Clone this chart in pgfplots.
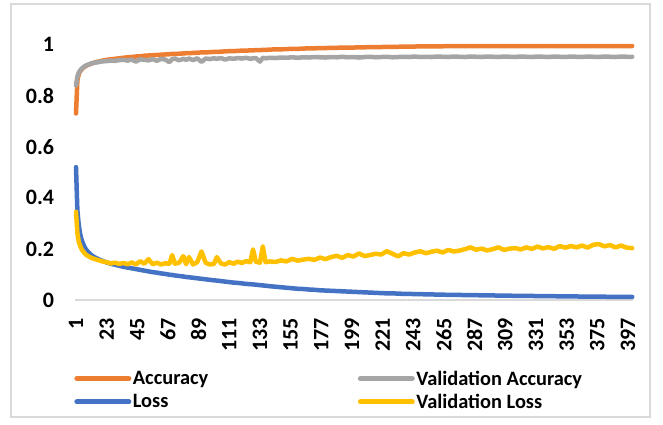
\documentclass[border=0pt]{standalone}
\usepackage{fontspec}
\setmainfont{Carlito}
\usepackage{pgfplots}
\usepackage{pgfplotstable}
\pgfplotsset{compat=1.18}
\definecolor{cacc}{HTML}{ED7D31}
\definecolor{cvacc}{HTML}{A5A5A5}
\definecolor{closs}{HTML}{4472C4}
\definecolor{cvloss}{HTML}{FFC000}
\definecolor{cgrid}{HTML}{D9D9D9}
\newcommand\cf{\fontsize{20.4bp}{24bp}\selectfont\bfseries}
\newcommand\tf{\fontsize{22bp}{26bp}\selectfont\bfseries}
\pgfplotstableread{
ep acc vacc loss vloss
1 0.730 0.840 0.520 0.345
2 0.860 0.875 0.350 0.262
3 0.884 0.890 0.292 0.228
4 0.895 0.899 0.258 0.212
5 0.902 0.905 0.236 0.199
6 0.908 0.910 0.221 0.191
7 0.912 0.914 0.209 0.184
8 0.916 0.917 0.199 0.178
10 0.921 0.922 0.186 0.171
12 0.925 0.926 0.176 0.165
14 0.929 0.928 0.168 0.161
17 0.933 0.931 0.160 0.156
20 0.937 0.934 0.153 0.151
23 0.940 0.935 0.147 0.148
26 0.942 0.937 0.142 0.143
29 0.944 0.936 0.138 0.146
32 0.946 0.939 0.134 0.141
35 0.948 0.940 0.130 0.145
38 0.950 0.937 0.127 0.140
41 0.951 0.941 0.124 0.147
44 0.953 0.933 0.121 0.139
47 0.954 0.942 0.118 0.152
50 0.956 0.940 0.115 0.142
53 0.957 0.938 0.112 0.160
56 0.958 0.943 0.109 0.140
59 0.959 0.936 0.107 0.146
62 0.960 0.944 0.104 0.139
65 0.961 0.941 0.102 0.144
68 0.962 0.931 0.099 0.141
70 0.963 0.943 0.098 0.176
72 0.963 0.945 0.096 0.142
75 0.964 0.938 0.094 0.146
78 0.965 0.944 0.092 0.172
80 0.966 0.940 0.090 0.140
82 0.966 0.945 0.089 0.168
85 0.967 0.939 0.087 0.139
88 0.968 0.946 0.085 0.148
91 0.969 0.932 0.083 0.190
94 0.969 0.945 0.081 0.146
97 0.970 0.943 0.079 0.139
100 0.971 0.946 0.077 0.141
102 0.971 0.944 0.076 0.168
105 0.972 0.947 0.074 0.143
108 0.973 0.941 0.072 0.139
111 0.974 0.946 0.070 0.148
114 0.974 0.944 0.068 0.142
117 0.975 0.947 0.067 0.150
120 0.976 0.945 0.065 0.145
123 0.976 0.948 0.063 0.152
126 0.977 0.944 0.062 0.148
128 0.977 0.946 0.061 0.198
130 0.978 0.947 0.060 0.150
133 0.978 0.933 0.058 0.146
135 0.979 0.948 0.057 0.210
137 0.979 0.946 0.056 0.148
140 0.980 0.948 0.054 0.151
144 0.981 0.947 0.052 0.149
148 0.981 0.949 0.050 0.155
152 0.982 0.948 0.048 0.151
156 0.983 0.950 0.046 0.161
160 0.983 0.948 0.044 0.154
164 0.984 0.950 0.043 0.158
168 0.985 0.949 0.041 0.161
172 0.985 0.951 0.040 0.157
176 0.986 0.950 0.038 0.166
180 0.986 0.949 0.037 0.160
184 0.987 0.951 0.036 0.168
188 0.987 0.950 0.035 0.173
192 0.988 0.952 0.034 0.165
196 0.988 0.950 0.033 0.176
200 0.988 0.951 0.032 0.170
204 0.989 0.949 0.031 0.182
208 0.989 0.951 0.030 0.172
212 0.990 0.952 0.029 0.176
216 0.990 0.950 0.028 0.181
220 0.990 0.951 0.027 0.178
224 0.991 0.952 0.026 0.191
228 0.991 0.950 0.026 0.181
232 0.991 0.951 0.025 0.171
236 0.992 0.952 0.024 0.183
240 0.992 0.951 0.024 0.178
244 0.992 0.953 0.023 0.186
248 0.993 0.951 0.023 0.191
252 0.993 0.952 0.022 0.183
256 0.993 0.951 0.022 0.189
260 0.993 0.953 0.021 0.193
264 0.993 0.952 0.021 0.186
268 0.994 0.951 0.020 0.196
272 0.994 0.953 0.020 0.190
276 0.994 0.952 0.020 0.193
280 0.994 0.951 0.019 0.199
284 0.994 0.953 0.019 0.206
288 0.994 0.952 0.019 0.197
292 0.994 0.951 0.018 0.201
296 0.994 0.953 0.018 0.194
300 0.994 0.952 0.018 0.199
304 0.994 0.951 0.017 0.206
308 0.994 0.953 0.017 0.196
312 0.994 0.952 0.017 0.201
316 0.994 0.951 0.016 0.203
320 0.994 0.953 0.016 0.198
324 0.994 0.952 0.016 0.206
328 0.994 0.951 0.016 0.200
332 0.994 0.953 0.015 0.209
336 0.994 0.952 0.015 0.202
340 0.994 0.951 0.015 0.207
344 0.994 0.953 0.015 0.200
348 0.994 0.952 0.014 0.211
352 0.994 0.951 0.014 0.205
356 0.994 0.953 0.014 0.211
360 0.994 0.952 0.014 0.206
364 0.994 0.951 0.013 0.213
368 0.994 0.953 0.013 0.205
372 0.994 0.952 0.013 0.216
376 0.994 0.951 0.013 0.219
380 0.994 0.953 0.013 0.210
384 0.994 0.952 0.012 0.215
388 0.994 0.951 0.012 0.206
392 0.994 0.953 0.012 0.213
396 0.994 0.952 0.012 0.205
400 0.994 0.952 0.012 0.203
}\data
\begin{document}
\begin{tikzpicture}
\useasboundingbox (-75.3bp,-125bp) rectangle (587.7bp,300bp);
\draw[cgrid, line width=1.5bp] (-64.3bp,-117bp) rectangle (574.7bp,296bp);
\begin{axis}[
  scale only axis,
  width=557.6bp, height=255.5bp,
  xmin=0.5, xmax=400.5,
  ymin=0, ymax=1,
  clip=false,
  axis x line*=bottom, axis y line*=left,
  x axis line style={draw=cgrid, line width=2bp},
  y axis line style={draw=none},
  major tick length=0pt,
  xtick={1,23,...,397},
  ytick={0,0.2,...,1},
  /pgf/number format/assume math mode=true,
  xticklabel style={font=\tf, rotate=90, anchor=east, inner sep=0pt},
  xticklabel shift=18bp,
  yticklabel style={font=\tf, anchor=east, inner sep=0pt},
  yticklabel shift=21bp,
  every axis plot/.append style={line width=4.5bp, line join=round, line cap=round},
  legend columns=2,
  legend cell align=left,
  legend style={draw=none, fill=none, font=\cf, at={(axis description cs:-0.002,-0.272)}, anchor=north west, inner sep=0pt, row sep=5.5bp, nodes={inner xsep=1.5bp, inner ysep=1bp}},
  legend image code/.code={\draw[line width=5bp, line cap=round] (0bp,0bp) -- (52bp,0bp);},
  /tikz/every even column/.append style={column sep=148bp},
]
\addplot[cacc, no marks] table[x=ep, y=acc] {\data};
\addlegendentry{Accuracy}
\addplot[cvacc, no marks] table[x=ep, y=vacc] {\data};
\addlegendentry{Validation Accuracy}
\addplot[closs, no marks] table[x=ep, y=loss] {\data};
\addlegendentry{Loss}
\addplot[cvloss, no marks] table[x=ep, y=vloss] {\data};
\addlegendentry{Validation Loss}
\end{axis}
\end{tikzpicture}
\end{document}
